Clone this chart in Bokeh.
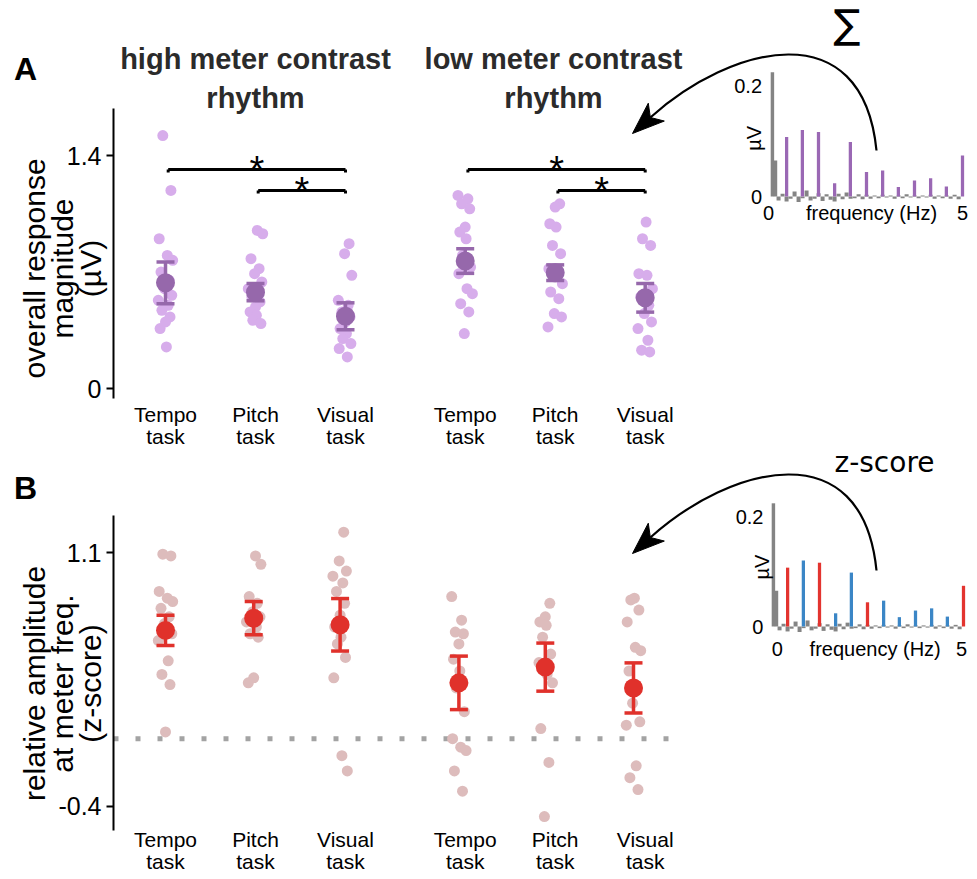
import math
import numpy as np
from bokeh.plotting import figure
from bokeh.models import Range1d, FixedTicker, Label, CustomJSTickFormatter, LinearAxis
from bokeh.embed import file_html
from bokeh.resources import INLINE
from bokeh.core.properties import value

# ---------------- data ----------------
task_labels = ["Tempo\ntask", "Pitch\ntask", "Visual\ntask", "Tempo\ntask", "Pitch\ntask", "Visual\ntask"]
rhythm_titles = ["high meter contrast\nrhythm", "low meter contrast\nrhythm"]

# Panel A: overall response magnitude (µV), per participant
mag_high_tempo = [1.52, 1.19, 0.90, 0.80, 0.77, 0.70, 0.65, 0.60, 0.56, 0.53, 0.50, 0.47, 0.43, 0.40, 0.36, 0.25]
mag_high_pitch = [0.95, 0.93, 0.78, 0.72, 0.69, 0.64, 0.60, 0.57, 0.55, 0.52, 0.49, 0.46, 0.44, 0.41, 0.39]
mag_high_visual = [0.87, 0.81, 0.68, 0.53, 0.50, 0.46, 0.43, 0.40, 0.36, 0.33, 0.30, 0.27, 0.24, 0.19]
mag_low_tempo = [1.16, 1.14, 1.11, 1.08, 0.97, 0.94, 0.90, 0.80, 0.73, 0.69, 0.60, 0.57, 0.51, 0.46, 0.33]
mag_low_pitch = [1.11, 1.09, 0.99, 0.97, 0.86, 0.81, 0.72, 0.68, 0.63, 0.58, 0.54, 0.45, 0.43, 0.37]
mag_low_visual = [1.00, 0.90, 0.86, 0.69, 0.68, 0.60, 0.55, 0.50, 0.45, 0.40, 0.36, 0.29, 0.23, 0.22]
mag_mean = [0.635, 0.579, 0.434, 0.766, 0.696, 0.545]
mag_sem = [0.125, 0.052, 0.081, 0.074, 0.047, 0.086]
sig_pairs = [(0, 2), (1, 2), (3, 5), (4, 5)]

# Panel B: relative amplitude at meter frequencies (z-score), per participant
z_high_tempo = [1.09, 1.08, 0.87, 0.83, 0.81, 0.77, 0.72, 0.68, 0.62, 0.58, 0.46, 0.38, 0.32, 0.04]
z_high_pitch = [1.08, 1.03, 0.84, 0.80, 0.75, 0.72, 0.69, 0.66, 0.62, 0.60, 0.36, 0.33]
z_high_visual = [1.22, 1.05, 0.99, 0.96, 0.92, 0.87, 0.80, 0.73, 0.66, 0.60, 0.56, 0.48, 0.36, -0.10, -0.19]
z_low_tempo = [0.84, 0.70, 0.63, 0.62, 0.56, 0.47, 0.40, 0.30, 0.16, 0.00, -0.05, -0.07, -0.19, -0.31]
z_low_pitch = [0.80, 0.72, 0.69, 0.67, 0.60, 0.50, 0.45, 0.38, 0.33, 0.06, -0.14, -0.46]
z_low_visual = [0.83, 0.82, 0.76, 0.69, 0.54, 0.52, 0.40, 0.30, 0.21, 0.10, 0.08, -0.16, -0.23, -0.30]
z_mean = [0.64, 0.712, 0.673, 0.33, 0.423, 0.30]
z_sem = [0.09, 0.098, 0.155, 0.158, 0.142, 0.148]

# Inset spectrum (µV)
harm_freq = [0.42, 0.83, 1.25, 1.67, 2.08, 2.50, 2.92, 3.33, 3.75, 4.17, 4.58, 5.00]
harm_amp = [0.107, 0.120, 0.116, 0.024, 0.098, 0.044, 0.047, 0.017, 0.029, 0.033, 0.018, 0.074]
meter_related = [True, False, True, False, False, True, False, False, False, False, False, True]
dc_freq = [0.05, 0.13]
dc_amp = [0.224, 0.065]
noise_amp = [-0.007, 0.005, -0.009, -0.004, 0.009, -0.010, -0.003, 0.011, -0.007, -0.004,
             0.006, -0.008, 0.004, -0.006, -0.009, 0.005, -0.005, 0.007, -0.004, -0.003,
             0.004, -0.005, 0.003, -0.004, 0.002, -0.003, 0.003, -0.002, 0.002, -0.004,
             0.002, -0.003, 0.004, -0.002, 0.002, -0.003, 0.002, -0.002, 0.003, -0.004,
             0.002, -0.003, 0.002, -0.004, 0.003, -0.005]

mag_points = [mag_high_tempo, mag_high_pitch, mag_high_visual, mag_low_tempo, mag_low_pitch, mag_low_visual]
z_points = [z_high_tempo, z_high_pitch, z_high_visual, z_low_tempo, z_low_pitch, z_low_visual]

# ---------------- style / layout ----------------
FONT = "Liberation Sans"
A_DOT, A_MEAN = "#D7ADEB", "#9668AB"
B_DOT, B_MEAN = "#DDBCBC", "#E0312B"
SPEC_PURPLE, SPEC_RED, SPEC_BLUE, SPEC_GRAY = "#9A68B4", "#E3342F", "#3B86C6", "#848484"

slots_A = [1.0, 2.0, 3.0, 4.33, 5.33, 6.33]
slots_B = [1.0, 1.98, 2.94, 4.26, 5.22, 6.20]
jitter = [-0.03, 0.06, -0.07, 0.02, 0.08, -0.05, 0.04, -0.01, 0.07, -0.08, 0.03, -0.04, 0.05, 0.0, -0.06, 0.01]

W, H = 977, 879
TOP, BOT = 0, H          # page pixel extent of the figure
LEFT, RIGHT = 0, W


def ax(px):  # page x -> slot units
    return (px - 165.0) / 90.0 + 1.0


def ay(py):  # page y -> panel A value (default y range)
    return (388.0 - py) / 166.4


def by(py):  # page y -> panel B value
    return 1.1 - (py - 552.0) / 169.3


p = figure(width=W, height=H, x_range=Range1d(ax(LEFT), ax(RIGHT)), y_range=Range1d(ay(BOT), ay(TOP)),
           output_backend="svg", toolbar_location=None, x_axis_location=None, y_axis_location=None,
           min_border=0, min_border_left=0, min_border_right=0, min_border_top=0, min_border_bottom=0,
           background_fill_color="white", border_fill_color="white")
p.outline_line_color = None
p.grid.visible = False
p.extra_y_ranges = {
    "zb": Range1d(by(BOT), by(TOP)),
    "uvA": Range1d(-(BOT - 196) / 555.0, (196 - TOP) / 555.0),
    "uvB": Range1d(-(BOT - 626) / 550.0, (626 - TOP) / 550.0),
}
p.extra_x_ranges = {
    "hzA": Range1d((LEFT - 770) / 38.4, (RIGHT - 770) / 38.4),
    "hzB": Range1d((LEFT - 771) / 38.4, (RIGHT - 771) / 38.4),
}


def add_y_axis(range_name, ticks, bounds):
    a = LinearAxis(y_range_name=range_name, fixed_location=ax(113), bounds=bounds,
                   ticker=FixedTicker(ticks=ticks),
                   formatter=CustomJSTickFormatter(
                       code="return Math.abs(tick) < 1e-9 ? '0' : tick.toFixed(1);"))
    a.axis_line_width = 2
    a.axis_line_color = "black"
    a.major_tick_line_width = 2
    a.major_tick_line_color = "black"
    a.major_tick_out = 7
    a.major_tick_in = 0
    a.minor_tick_line_color = None
    a.major_label_text_font = FONT
    a.major_label_text_font_size = "25px"
    a.major_label_text_color = "black"
    a.major_label_standoff = 5
    p.add_layout(a, "left")


def add_x_axis(loc):
    a = LinearAxis(fixed_location=loc, ticker=FixedTicker(ticks=slots_A),
                   formatter=CustomJSTickFormatter(args=dict(tvals=slots_A, labs=task_labels), code="""
        for (let i = 0; i < tvals.length; i++) { if (Math.abs(tvals[i] - tick) < 1e-6) return labs[i]; }
        return "";"""))
    a.axis_line_color = None
    a.major_tick_line_color = None
    a.minor_tick_line_color = None
    a.major_label_text_font = FONT
    a.major_label_text_font_size = "21px"
    a.major_label_text_color = "black"
    a.major_label_standoff = 0
    a.major_label_text_line_height = 0.96
    p.add_layout(a, "below")


def draw_groups(points, means, sems, slots, dot_color, mean_color, yname):
    kw = dict(y_range_name=yname)
    for k, vals in enumerate(points):
        xs = [slots[k] + jitter[(i + 3 * k) % len(jitter)] for i in range(len(vals))]
        p.scatter(xs, vals, size=11, color=dot_color, line_color=None, **kw)
    xs = slots
    lo = [m - s for m, s in zip(means, sems)]
    hi = [m + s for m, s in zip(means, sems)]
    p.segment(xs, lo, xs, hi, line_width=3.5, color=mean_color, **kw)
    cw = 0.1
    p.segment([x - cw for x in xs], hi, [x + cw for x in xs], hi, line_width=3.5, color=mean_color, **kw)
    p.segment([x - cw for x in xs], lo, [x + cw for x in xs], lo, line_width=3.5, color=mean_color, **kw)
    p.scatter(xs, means, size=19, color=mean_color, line_color=None, **kw)


def draw_arrow(shift):
    # curved arrow from an inset into its panel (page pixel geometry)
    P0, P1, P2 = (876, 150 + shift), (862, 10 + shift), (730, 45 + shift)
    tip = (632, 133 + shift)
    d = np.array([tip[0] - P2[0], tip[1] - P2[1]], dtype=float)
    d /= np.hypot(*d)
    n = np.array([d[1], -d[0]])
    L, hw = 32.0, 12.0
    base = np.array(tip) - L * d
    notch = np.array(tip) - 24.0 * d
    w1 = base + hw * n
    w2 = base - hw * n
    p.bezier(x0=[ax(P0[0])], y0=[ay(P0[1])], x1=[ax(notch[0])], y1=[ay(notch[1])],
             cx0=[ax(P1[0])], cy0=[ay(P1[1])], cx1=[ax(P2[0])], cy1=[ay(P2[1])],
             line_color="black", line_width=2.2)
    p.patch([ax(tip[0]), ax(w1[0]), ax(notch[0]), ax(w2[0])],
            [ay(tip[1]), ay(w1[1]), ay(notch[1]), ay(w2[1])],
            color="black", line_width=1)


def draw_spectrum(colors, xname, yname, lab):
    noise_freq = [0.21 + 0.1042 * i for i in range(len(noise_amp))]
    kw = dict(x_range_name=xname, y_range_name=yname)
    p.vbar(x=noise_freq, top=noise_amp, bottom=0, width=0.1042, color=SPEC_GRAY, line_color=None, **kw)
    p.vbar(x=dc_freq, top=dc_amp, bottom=0, width=0.09, color=SPEC_GRAY, line_color=None, **kw)
    p.vbar(x=harm_freq, top=harm_amp, bottom=0, width=0.085, color=colors, line_color=None, **kw)
    tk = dict(text_font=value(FONT), text_font_size="20px", text_color="black", **kw)
    p.text(x=[lab["yx"], lab["yx"]], y=[0.2, 0.0], text=["0.2", "0"], text_align="right",
           text_baseline="middle", **tk)
    p.text(x=[lab["x0"], lab["x5"], lab["xf"]], y=[lab["xy"]] * 3, text=["0", "5", "frequency (Hz)"],
           text_align="center", text_baseline="middle", **tk)
    p.text(x=[lab["ux"]], y=[lab["uy"]], text=["µV"], angle=math.pi / 2, text_align="center",
           text_baseline="middle", **tk)


def label(x_px, y_px, text, size, **kw):
    opts = dict(text_font=FONT, text_font_size=size, text_color="black",
                text_align="center", text_baseline="middle")
    opts.update(kw)
    p.add_layout(Label(x=ax(x_px), y=ay(y_px), text=text, **opts))


# ---------------- panel A ----------------
add_y_axis("default", [0, 1.4], (ay(398), ay(108)))
add_x_axis(ay(396))
draw_groups(mag_points, mag_mean, mag_sem, slots_A, A_DOT, A_MEAN, "default")

sig_levels = [ay(169), ay(190), ay(169), ay(190)]
tick_len = 3.0 / 166.4
for (a, b), lev in zip(sig_pairs, sig_levels):
    x0, x1 = slots_A[a] + 0.03, slots_A[b]
    p.segment([x0], [lev], [x1], [lev], line_width=3, color="black")
    p.segment([x0, x1], [lev, lev], [x0, x1], [lev - tick_len, lev - tick_len], line_width=3, color="black")
    p.text(x=[(x0 + x1) / 2], y=[lev], text=["*"], text_font=value(FONT), text_font_size="38px",
           text_align="center", text_baseline="middle", text_color="black")

draw_spectrum([SPEC_PURPLE] * len(harm_freq), "hzA", "uvA",
              dict(yx=-0.22, x0=-0.05, x5=5.0, xf=2.63, xy=-(212 - 196) / 555.0, ux=-0.44, uy=0.105))
draw_arrow(0)

label(25, 68, "A", "32px", text_font_style="bold")
label(62, 268, "overall response\nmagnitude\n(µV)", "30px", angle=math.pi / 2, text_line_height=0.86)
for cx, title in zip([255, 553], rhythm_titles):
    for line, cy in zip(title.split("\n"), [58, 97]):
        label(cx, cy, line, "29px", text_font_style="bold", text_color="#2b2b2b")
label(846.5, 23, "∑", "40px", text_font="DejaVu Sans")

# ---------------- panel B ----------------
add_y_axis("zb", [-0.4, 1.1], (by(830), by(515)))
add_x_axis(ay(821))
p.segment([ax(113)], [0.0], [ax(682)], [0.0], line_color="#A3A3A3", line_width=5, line_dash="5 17",
          y_range_name="zb")
draw_groups(z_points, z_mean, z_sem, slots_B, B_DOT, B_MEAN, "zb")

draw_spectrum([SPEC_RED if m else SPEC_BLUE for m in meter_related], "hzB", "uvB",
              dict(yx=-0.21, x0=0.15, x5=4.95, xf=2.7, xy=-(648 - 626) / 550.0, ux=-0.26, uy=0.108))
draw_arrow(420)

label(25, 487, "B", "32px", text_font_style="bold")
label(62, 683, "relative amplitude\nat meter freq.\n(z-score)", "30px", angle=math.pi / 2,
      text_line_height=0.86)
label(884, 462, "z-score", "28px", text_font="DejaVu Sans")

open("out.html", "w").write(file_html(p, INLINE))
